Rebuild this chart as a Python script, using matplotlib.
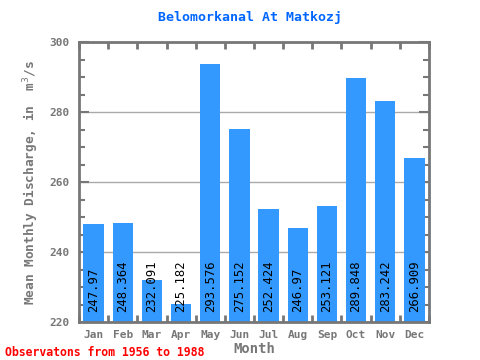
import numpy as np
import matplotlib
matplotlib.use("Agg")
import matplotlib.pyplot as plt
from matplotlib.ticker import MultipleLocator, FixedLocator

months = ["Jan", "Feb", "Mar", "Apr", "May", "Jun",
          "Jul", "Aug", "Sep", "Oct", "Nov", "Dec"]
discharge = [247.97, 248.364, 232.091, 225.182, 293.576, 275.152,
             252.424, 246.97, 253.121, 289.848, 283.242, 266.909]
labels = ["247.97", "248.364", "232.091", "225.182", "293.576", "275.152",
          "252.424", "246.97", "253.121", "289.848", "283.242", "266.909"]

plt.rcParams['font.family'] = ['DejaVu Sans Mono']
gray = "#777777"

fig = plt.figure(figsize=(4.8, 3.6), dpi=100)
ax = fig.add_axes([79/480, 1-322/360, 350/480, 280/360])

x = np.arange(len(months))
ax.bar(x, discharge, width=0.7, color="#3399ff", zorder=2)
for xi, lab in zip(x, labels):
    ax.text(xi, 222.8, lab, rotation=90, ha="center", va="bottom",
            fontsize=8.8, color="black", zorder=3)

ax.set_xlim(-0.5, 11.5)
ax.set_ylim(220, 300)
ax.yaxis.set_major_locator(MultipleLocator(20))
ax.yaxis.set_minor_locator(MultipleLocator(5))
ax.xaxis.set_major_locator(FixedLocator(x))
ax.xaxis.set_minor_locator(FixedLocator(np.arange(-0.5, 12, 1)))
ax.set_xticklabels(months)
ax.grid(axis="y", color="#aaaaaa", linewidth=1, zorder=1)

for sp in ax.spines.values():
    sp.set_color(gray)
    sp.set_linewidth(2)
ax.tick_params(axis="x", which="major", length=0, labelsize=8, labelcolor=gray, pad=6)
ax.tick_params(axis="x", which="minor", direction="in", length=5, width=2,
               color=gray, top=True, bottom=True)
ax.tick_params(axis="y", which="major", direction="in", length=7, width=1.5,
               color=gray, labelsize=8, labelcolor=gray, left=True, right=True, pad=7)
ax.tick_params(axis="y", which="minor", direction="in", length=4, width=1.5,
               color=gray, left=True, right=True)
for t in ax.get_xticklabels() + ax.get_yticklabels():
    t.set_fontweight("bold")

ax.set_xlabel("Month", fontsize=10, color=gray, fontweight="bold", labelpad=1)
ax.set_ylabel("Mean Monthly Discharge, in  m$^3$/s", fontsize=9.2, color=gray,
              fontweight="bold", labelpad=6)
fig.text(0.5 + 0.02, 0.952, "Belomorkanal At Matkozj", ha="center", va="center",
         fontsize=9.5, color="#0066ff", fontweight="bold")
fig.text(5/480, 1-352/360, "Observatons from 1956 to 1988", ha="left", va="center",
         fontsize=8.3, color="red", fontweight="bold")

plt.savefig("out.png", dpi=100)
